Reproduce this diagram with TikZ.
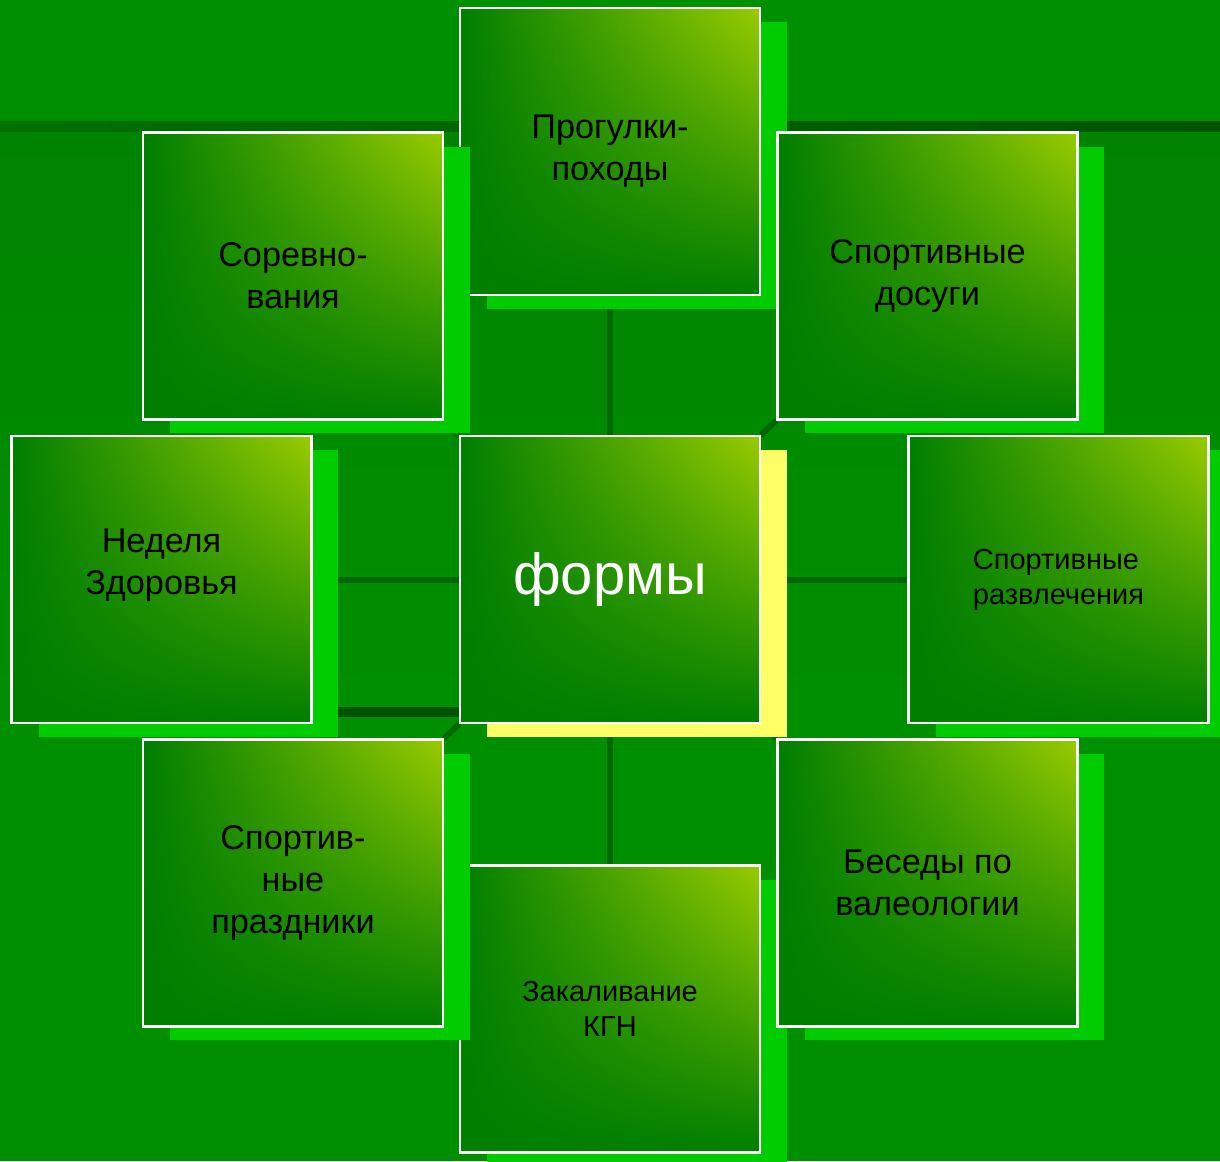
\documentclass[tikz,border=0pt]{standalone}
\usepackage{fontspec}
\setmainfont{Liberation Sans}
\usetikzlibrary{shadows,fadings}

\definecolor{slidegreen}{HTML}{008F00}
\definecolor{lowgreen}{HTML}{008400}
\definecolor{bandleft}{HTML}{007000}
\definecolor{bandright}{HTML}{005400}
\definecolor{linkgreen}{HTML}{006800}
\definecolor{boxdark}{HTML}{007F00}
\definecolor{boxlight}{HTML}{99CC00}
\definecolor{shadegreen}{HTML}{00CC00}
\definecolor{shadeyellow}{HTML}{FFFF66}

\pgfdeclarelayer{back}
\pgfdeclarelayer{links}
\pgfsetlayers{back,links,main}

\tikzset{
  formbox/.style={draw=white, line width=1.2pt,
    minimum width=6cm, minimum height=5.74cm,
    left color=boxdark, right color=boxlight,
    path picture={\fill[boxdark, path fading=north]
      (path picture bounding box.south west) rectangle (path picture bounding box.north east);},
    drop shadow={shadow xshift=0.54cm, shadow yshift=-0.28cm, fill=#1, opacity=1},
    align=center, text=black, font=\fontsize{19.5}{23.9}\selectfont},
  formbox/.default=shadegreen,
  smalltext/.style={font=\fontsize{16.5}{19.9}\selectfont},
  link/.style={linkgreen, line width=0.12cm},
}

\begin{document}
\begin{tikzpicture}[x=0.02cm, y=-0.02cm]
\clip (0,0) rectangle (1220,1161);
\useasboundingbox (0,0) rectangle (1220,1161);

% slide background
\begin{pgfonlayer}{back}
\fill[slidegreen] (0,0) rectangle (1220,1161);
\shade[top color=lowgreen, bottom color=slidegreen] (0,131) rectangle (1220,700);
\shade[left color=bandleft, right color=bandright] (0,121) rectangle (1220,131);
\end{pgfonlayer}

% boxes
\node[formbox] (walk) at (610,151.5) {Прогулки-\\походы};
\node[formbox, smalltext] (harden) at (610,1009) {Закаливание\\КГН};
\node[formbox=shadeyellow, text=white, font=\fontsize{33}{38}\selectfont] (forms) at (610,579.5) {формы};
\node[formbox, label={[align=center, font=\fontsize{19.5}{23.9}\selectfont, yshift=0.28cm]center:Неделя\\Здоровья}] (week) at (161.5,579.5) {};
\node[formbox, smalltext, align=left] (fun) at (1058.5,579.5) {Спортивные\\развлечения};
\node[formbox] (contest) at (293,276) {Соревно-\\вания};
\node[formbox] (leisure) at (927.5,276) {Спортивные\\досуги};
\node[formbox] (holiday) at (293,883) {Спортив-\\ные\\праздники};
\node[formbox] (talk) at (927.5,883) {Беседы по\\валеологии};

% connectors
\begin{pgfonlayer}{links}
\draw[link] (walk) -- (forms);
\draw[link] (forms) -- (harden);
\draw[link] (week) -- (forms);
\draw[link] (forms) -- (fun);
\draw[link] (forms.north west) -- (contest.south east);
\draw[link] (forms.north east) -- (leisure.south west);
\draw[link] (forms.south west) -- (holiday.north east);
\draw[link] (forms.south east) -- (talk.north west);
\draw[link, line width=0.2cm, bandright] ([yshift=0.24cm]week.south east) -- ([yshift=0.24cm]forms.south west);
\end{pgfonlayer}
\end{tikzpicture}
\end{document}
